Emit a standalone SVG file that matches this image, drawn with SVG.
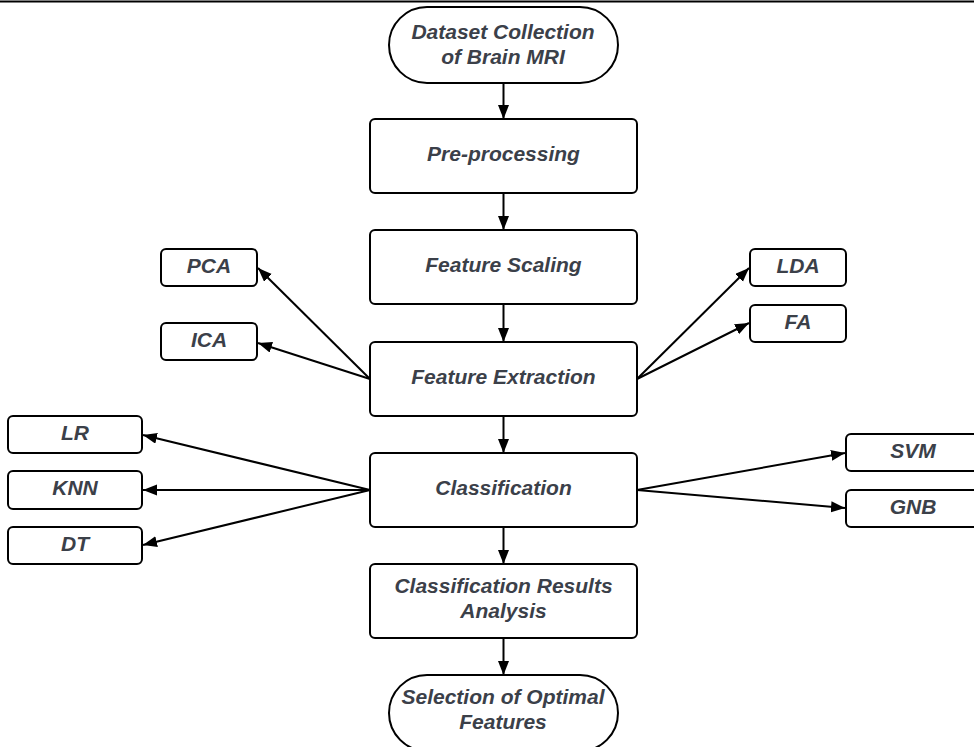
<svg xmlns="http://www.w3.org/2000/svg" width="974" height="747" viewBox="0 0 974 747">
<style>
.shape{fill:#ffffff;stroke:#000000;stroke-width:2}
.lbl{font-family:"Liberation Sans",Arial,sans-serif;font-weight:bold;font-style:italic;font-size:21px;fill:#3b4049;text-anchor:middle}
.conn{fill:none;stroke:#000000;stroke-width:2}
</style>
<defs>
<marker id="ah" markerUnits="userSpaceOnUse" markerWidth="15" markerHeight="12" refX="14" refY="5.5" orient="auto">
<path d="M0,0 L14,5.5 L0,11 z" fill="#000000"/>
</marker>
</defs>
<rect width="974" height="747" fill="#ffffff"/>
<line x1="0" y1="1.5" x2="974" y2="1.5" stroke="#000000" stroke-width="2"/>
<g id="connectors">
<line class="conn" x1="503.5" y1="83" x2="503.5" y2="119" marker-end="url(#ah)"/>
<line class="conn" x1="503.5" y1="193" x2="503.5" y2="230" marker-end="url(#ah)"/>
<line class="conn" x1="503.5" y1="304" x2="503.5" y2="342" marker-end="url(#ah)"/>
<line class="conn" x1="503.5" y1="416" x2="503.5" y2="453" marker-end="url(#ah)"/>
<line class="conn" x1="503.5" y1="527" x2="503.5" y2="564" marker-end="url(#ah)"/>
<line class="conn" x1="503.5" y1="638" x2="503.5" y2="675" marker-end="url(#ah)"/>
<line class="conn" x1="370" y1="379" x2="258" y2="268" marker-end="url(#ah)"/>
<line class="conn" x1="370" y1="379" x2="258" y2="343" marker-end="url(#ah)"/>
<line class="conn" x1="637" y1="379" x2="749" y2="268" marker-end="url(#ah)"/>
<line class="conn" x1="637" y1="379" x2="749" y2="323" marker-end="url(#ah)"/>
<line class="conn" x1="370" y1="490" x2="143" y2="435" marker-end="url(#ah)"/>
<line class="conn" x1="370" y1="490" x2="143" y2="490" marker-end="url(#ah)"/>
<line class="conn" x1="370" y1="490" x2="143" y2="545" marker-end="url(#ah)"/>
<line class="conn" x1="637" y1="490" x2="845" y2="453" marker-end="url(#ah)"/>
<line class="conn" x1="637" y1="490" x2="845" y2="508" marker-end="url(#ah)"/>
</g>
<g id="dataset">
<rect class="shape" x="389" y="7" width="229" height="76" rx="38" ry="38"/>
<text class="lbl" x="503" y="39">Dataset Collection</text>
<text class="lbl" x="503" y="64">of Brain MRI</text>
</g>
<g id="preprocessing">
<rect class="shape" x="370" y="119" width="267" height="74" rx="5"/>
<text class="lbl" x="503.5" y="161">Pre-processing</text>
</g>
<g id="featurescaling">
<rect class="shape" x="370" y="230" width="267" height="74" rx="5"/>
<text class="lbl" x="503.5" y="272">Feature Scaling</text>
</g>
<g id="featureextraction">
<rect class="shape" x="370" y="342" width="267" height="74" rx="5"/>
<text class="lbl" x="503.5" y="384">Feature Extraction</text>
</g>
<g id="classification">
<rect class="shape" x="370" y="453" width="267" height="74" rx="5"/>
<text class="lbl" x="503.5" y="495">Classification</text>
</g>
<g id="results">
<rect class="shape" x="370" y="564" width="267" height="74" rx="5"/>
<text class="lbl" x="503.5" y="593">Classification Results</text>
<text class="lbl" x="503.5" y="618">Analysis</text>
</g>
<g id="selection">
<rect class="shape" x="389" y="675" width="229" height="76" rx="38" ry="38"/>
<text class="lbl" x="503" y="704">Selection of Optimal</text>
<text class="lbl" x="503" y="729">Features</text>
</g>
<g id="pca">
<rect class="shape" x="161" y="249" width="96" height="37" rx="5"/>
<text class="lbl" x="209" y="272.5">PCA</text>
</g>
<g id="ica">
<rect class="shape" x="161" y="323" width="96" height="37" rx="5"/>
<text class="lbl" x="209" y="346.5">ICA</text>
</g>
<g id="lda">
<rect class="shape" x="750" y="249" width="96" height="37" rx="5"/>
<text class="lbl" x="798" y="272.5">LDA</text>
</g>
<g id="fa">
<rect class="shape" x="750" y="305" width="96" height="37" rx="5"/>
<text class="lbl" x="798" y="328.5">FA</text>
</g>
<g id="lr">
<rect class="shape" x="8" y="416" width="134" height="37" rx="5"/>
<text class="lbl" x="75" y="439.5">LR</text>
</g>
<g id="knn">
<rect class="shape" x="8" y="471" width="134" height="38" rx="5"/>
<text class="lbl" x="75" y="495">KNN</text>
</g>
<g id="dt">
<rect class="shape" x="8" y="527" width="134" height="37" rx="5"/>
<text class="lbl" x="75" y="550.5">DT</text>
</g>
<g id="svm">
<rect class="shape" x="846" y="434" width="134" height="37" rx="5"/>
<text class="lbl" x="913" y="457.5">SVM</text>
</g>
<g id="gnb">
<rect class="shape" x="846" y="490" width="134" height="37" rx="5"/>
<text class="lbl" x="913" y="513.5">GNB</text>
</g>
</svg>
